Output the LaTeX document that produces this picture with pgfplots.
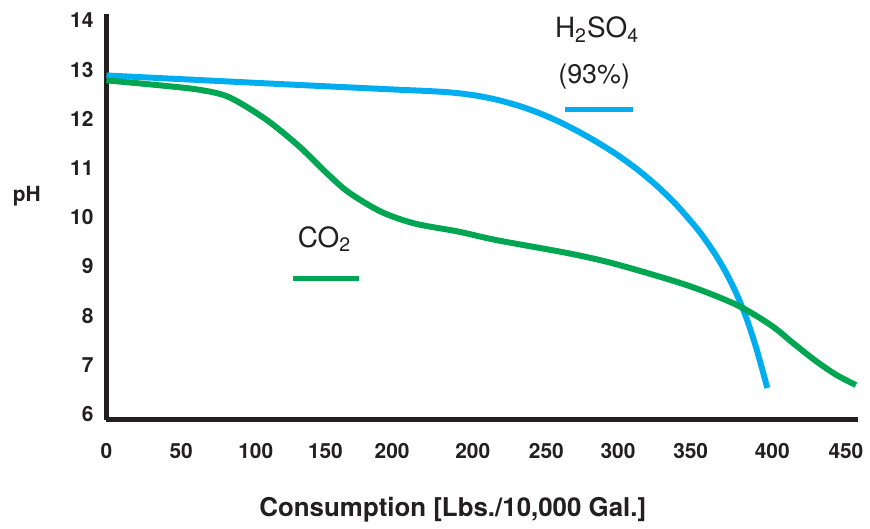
\documentclass[border=0pt]{standalone}
\usepackage{pgfplots}
\pgfplotsset{compat=1.18}
\usepackage{fontspec}
\setmainfont{TeX Gyre Heros}
\definecolor{acidblue}{RGB}{0,174,239}
\definecolor{co2green}{RGB}{0,166,81}
\definecolor{axisblack}{RGB}{35,31,32}
\begin{document}
\begin{tikzpicture}
% x is in drawing units (1 unit = 0.5pt); tick labels are those of the original chart
\begin{axis}[
    scale only axis,
    width=377.5pt, height=204pt,
    xmin=0, xmax=755,
    ymin=5.88, ymax=14.13,
    axis lines=left,
    axis line style={-, line width=2.5pt, color=axisblack},
    major tick length=0pt,
    tick style={draw=none},
    xtick={0,75,150,220,287,368,442,514,587,669,743},
    xticklabels={0,50,100,150,200,200,250,300,350,400,450},
    ytick={6,7,...,14},
    /pgf/number format/assume math mode=true,
    ticklabel style={font=\bfseries\fontsize{10.5}{12}\selectfont, text=axisblack},
    yticklabel style={anchor=east, xshift=-3pt},
    xticklabel style={anchor=north, yshift=-8pt},
    clip=false,
]
\addplot[acidblue, line width=3pt, line cap=butt, smooth, tension=0.5] coordinates {
  (0,12.88) (100,12.78) (200,12.68) (283,12.60) (333,12.553) (353,12.520)
  (373,12.466) (393,12.383) (413,12.271) (433,12.130) (453,11.957)
  (473,11.753) (493,11.524) (513,11.269) (533,10.976) (553,10.638)
  (573,10.243) (593,9.777) (603,9.506) (613,9.204) (623,8.856)
  (633,8.445) (643,7.949) (653,7.334) (664,6.53)
};
\addplot[co2green, line width=3pt, line cap=butt, smooth, tension=0.5] coordinates {
  (0,12.78) (53,12.68) (93,12.59) (123,12.44) (160,11.99) (193,11.45)
  (220,10.92) (243,10.51) (276,10.11) (310,9.87) (353,9.71) (393,9.53)
  (466,9.26) (513,9.04) (583,8.62) (633,8.22) (668,7.80) (690,7.44)
  (712,7.09) (733,6.80) (753,6.59)
};
% labels next to the curves
\node[font=\fontsize{14}{16}\selectfont, text=axisblack] at (axis cs:493,13.81) {H\textsubscript{2}SO\textsubscript{4}};
\node[font=\fontsize{13.5}{16}\selectfont, text=axisblack] at (axis cs:490,12.86) {(93\%)};
\draw[acidblue, line width=2.5pt] (axis cs:461,12.19) -- (axis cs:529,12.19);
\node[font=\fontsize{14}{16}\selectfont, text=axisblack] at (axis cs:219,9.56) {CO\textsubscript{2}};
\draw[co2green, line width=2.5pt] (axis cs:187,8.75) -- (axis cs:254,8.75);
\node[font=\bfseries\fontsize{10.5}{12}\selectfont, text=axisblack] at (axis cs:-80,10.43) {pH};
\node[font=\bfseries\fontsize{13}{15}\selectfont, text=axisblack] at (axis cs:348,4.06) {Consumption [Lbs./10,000 Gal.]};
% page frame, 870 x 520 px of the original
\path (rel axis cs:0,0) ++(-53.5pt,-49pt) rectangle ++(435pt,260pt);
\end{axis}
\end{tikzpicture}
\end{document}
